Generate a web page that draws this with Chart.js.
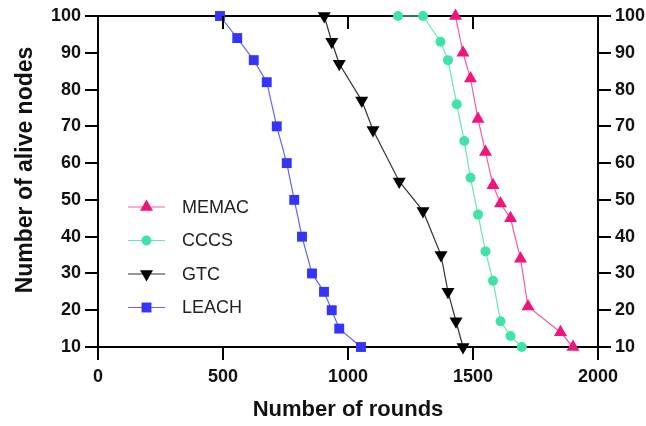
<!DOCTYPE html>
<html><head><meta charset="utf-8">
<script src="https://cdn.jsdelivr.net/npm/chart.js@4.4.1/dist/chart.umd.min.js"></script>
<style>html,body{margin:0;padding:0;background:#fff}#wrap{width:646px;height:426px}</style>
</head><body><div id="wrap"><canvas id="c" width="646" height="426"></canvas></div>
<script>
// ---- data ----
const seriesNames = ['MEMAC', 'CCCS', 'GTC', 'LEACH'];
const memacRounds = [1430, 1460, 1490, 1520, 1550, 1580, 1610, 1650, 1690, 1720, 1850, 1900];
const memacAlive  = [100, 90, 83, 72, 63, 54, 49, 45, 34, 21, 14, 10];
const ccccsRounds = [1200, 1300, 1370, 1400, 1435, 1465, 1490, 1520, 1550, 1580, 1610, 1650, 1695];
const cccsAlive   = [100, 100, 93, 88, 76, 66, 56, 46, 36, 28, 17, 13, 10];
const gtcRounds   = [905, 935, 965, 1055, 1100, 1205, 1300, 1372, 1400, 1432, 1460];
const gtcAlive    = [100, 93, 87, 77, 69, 55, 47, 35, 25, 17, 10];
const leachRounds = [488, 557, 623, 675, 715, 755, 785, 816, 856, 904, 935, 965, 1052];
const leachAlive  = [100, 94, 88, 82, 70, 60, 50, 40, 30, 25, 20, 15, 10];
const xTicks = [0, 500, 1000, 1500, 2000];
const yTicks = [10, 20, 30, 40, 50, 60, 70, 80, 90, 100];
const xTitle = 'Number of rounds';
const yTitle = 'Number of alive nodes';

const pts = (xs, ys) => xs.map((x, i) => ({x: x, y: ys[i]}));

const styles = [
  {marker: '#F0147C', line: '#F35C9F', shape: 'triangle', rot: 0, r: 7.5},
  {marker: '#3FE3A6', line: '#66E6B8', shape: 'circle', rot: 0, r: 5},
  {marker: '#000000', line: '#333333', shape: 'triangle', rot: 180, r: 7.5},
  {marker: '#3434FA', line: '#6464F2', shape: 'rect', rot: 0, r: 7}
];
const dataPairs = [
  pts(memacRounds, memacAlive),
  pts(ccccsRounds, cccsAlive),
  pts(gtcRounds, gtcAlive),
  pts(leachRounds, leachAlive)
];

const datasets = seriesNames.map((n, i) => ({
  label: n,
  data: dataPairs[i],
  borderColor: styles[i].line,
  borderWidth: 1.2,
  backgroundColor: styles[i].marker,
  pointBackgroundColor: styles[i].marker,
  pointBorderColor: styles[i].marker,
  pointBorderWidth: 0,
  pointStyle: styles[i].shape,
  pointRotation: styles[i].rot,
  pointRadius: styles[i].r,
  pointHoverRadius: styles[i].r,
  tension: 0,
  fill: false,
  clip: false
}));

const FONT = '"Liberation Sans", Arial, sans-serif';

function drawMarker(ctx, shape, x, y, r, rot, color) {
  ctx.save();
  ctx.fillStyle = color;
  ctx.beginPath();
  if (shape === 'circle') {
    ctx.arc(x, y, r, 0, Math.PI * 2);
  } else if (shape === 'rect') {
    const s = Math.SQRT1_2 * r;
    ctx.rect(x - s, y - s, 2 * s, 2 * s);
  } else {
    let rad = rot * Math.PI / 180;
    ctx.moveTo(x + Math.sin(rad) * r, y - Math.cos(rad) * r);
    rad += 2 * Math.PI / 3;
    ctx.lineTo(x + Math.sin(rad) * r, y - Math.cos(rad) * r);
    rad += 2 * Math.PI / 3;
    ctx.lineTo(x + Math.sin(rad) * r, y - Math.cos(rad) * r);
    ctx.closePath();
  }
  ctx.fill();
  ctx.restore();
}

const extras = {
  id: 'extras',
  afterDraw(chart) {
    const ctx = chart.ctx;
    const a = chart.chartArea;
    const xs = chart.scales.x;
    // inward ticks on top axis
    ctx.save();
    ctx.strokeStyle = '#000';
    ctx.lineWidth = 2;
    xTicks.forEach(v => {
      if (v === xs.min || v === xs.max) return;
      const px = Math.round(xs.getPixelForValue(v));
      ctx.beginPath();
      ctx.moveTo(px, a.top);
      ctx.lineTo(px, a.top + 13);
      ctx.stroke();
    });
    ctx.restore();
    // y axis title
    ctx.save();
    ctx.font = 'bold 23px ' + FONT;
    ctx.fillStyle = '#111';
    ctx.textAlign = 'center';
    ctx.textBaseline = 'middle';
    ctx.translate(a.left - 72, a.top + 154);
    ctx.rotate(-Math.PI / 2);
    ctx.fillText(yTitle, 0, 0);
    ctx.restore();
    // legend
    ctx.save();
    ctx.font = '18px ' + FONT;
    ctx.textBaseline = 'middle';
    ctx.textAlign = 'left';
    seriesNames.forEach((n, i) => {
      const y = a.top + 191 + i * 33.5;
      const x0 = a.left + 30, x1 = a.left + 67;
      ctx.strokeStyle = styles[i].line;
      ctx.lineWidth = 1.2;
      ctx.beginPath();
      ctx.moveTo(x0, y);
      ctx.lineTo(x1, y);
      ctx.stroke();
      drawMarker(ctx, styles[i].shape, (x0 + x1) / 2, y, styles[i].r, styles[i].rot, styles[i].marker);
      ctx.fillStyle = '#222';
      ctx.fillText(n, a.left + 84, y + 1);
    });
    ctx.restore();
  }
};

const tickFont = {family: FONT, size: 18, weight: 'bold'};
const titleFont = {family: FONT, size: 22, weight: 'bold'};
const gridOpts = {display: true, drawOnChartArea: false, drawTicks: true, tickLength: 13, color: '#000', lineWidth: 2};
const borderOpts = {display: true, color: '#000', width: 2};
const plain = v => String(v);

new Chart(document.getElementById('c'), {
  type: 'line',
  data: {datasets: datasets},
  options: {
    responsive: false,
    animation: false,
    layout: {padding: 0},
    plugins: {legend: {display: false}, tooltip: {enabled: false}},
    scales: {
      x: {
        type: 'linear', position: 'bottom', min: 0, max: 2000,
        afterBuildTicks: s => { s.ticks = xTicks.map(v => ({value: v})); },
        afterFit: s => { s.height = 79; },
        grid: gridOpts, border: borderOpts,
        ticks: {font: tickFont, color: '#111', padding: 6, maxRotation: 0, autoSkip: false, callback: plain},
        title: {display: true, text: xTitle, font: titleFont, color: '#111', padding: {top: 0, bottom: 3}}
      },
      x2: {
        type: 'linear', position: 'top', min: 0, max: 2000,
        afterFit: s => { s.height = 16; },
        grid: {display: false}, border: borderOpts,
        ticks: {display: false}
      },
      y: {
        type: 'linear', position: 'left', min: 10, max: 100,
        afterBuildTicks: s => { s.ticks = yTicks.map(v => ({value: v})); },
        afterFit: s => { s.width = 98; },
        grid: gridOpts, border: borderOpts,
        ticks: {font: tickFont, color: '#111', padding: 4, autoSkip: false, callback: plain},
        title: {display: false, text: yTitle}
      },
      y2: {
        type: 'linear', position: 'right', min: 10, max: 100,
        afterBuildTicks: s => { s.ticks = yTicks.map(v => ({value: v})); },
        afterFit: s => { s.width = 48; },
        grid: gridOpts, border: borderOpts,
        ticks: {font: tickFont, color: '#111', padding: 4, autoSkip: false, callback: plain}
      }
    }
  },
  plugins: [extras]
});
</script>
</body></html>
